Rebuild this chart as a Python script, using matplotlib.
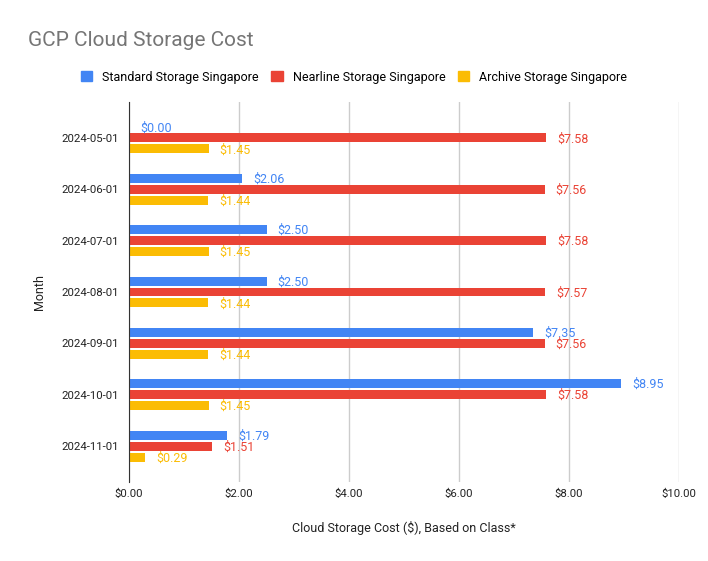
import matplotlib
matplotlib.use("Agg")
import matplotlib.pyplot as plt
import numpy as np

months = ["2024-05-01", "2024-06-01", "2024-07-01", "2024-08-01", "2024-09-01", "2024-10-01", "2024-11-01"]
standard = [0.00, 2.06, 2.50, 2.50, 7.35, 8.95, 1.79]
nearline = [7.58, 7.56, 7.58, 7.57, 7.56, 7.58, 1.51]
archive = [1.45, 1.44, 1.45, 1.44, 1.44, 1.45, 0.29]
series_names = ["Standard Storage Singapore", "Nearline Storage Singapore", "Archive Storage Singapore"]
colors = ["#4285F4", "#EA4335", "#FBBC04"]
xticks = [0, 2, 4, 6, 8, 10]

plt.rcParams['font.family'] = ['Roboto', 'DejaVu Sans']

fig = plt.figure(figsize=(7.08, 5.61), dpi=100)
ax = fig.add_axes([129/708, 1-482/561, 550/708, 380/561])

y = np.arange(len(months))
pitch = 0.214
h = 0.175
for i, (vals, c, name) in enumerate(zip([standard, nearline, archive], colors, series_names)):
    pos = y + (i - 1) * pitch
    ax.barh(pos, vals, height=h, color=c, label=name, zorder=3)
    for p, v in zip(pos, vals):
        ax.text(v + 0.2, p + 0.02, f"${v:.2f}", color=c, fontsize=9, va='center', ha='left', zorder=4)

ax.set_ylim(len(months) - 1 + 0.7, -0.7)
ax.set_xlim(0, 10)
ax.set_yticks(y)
ax.set_yticklabels(months, fontsize=8.2, color="#222222")
ax.set_xticks(xticks)
ax.set_xticklabels([f"${t:.2f}" for t in xticks], fontsize=8.2, color="#222222")
ax.tick_params(axis='y', length=0, pad=7)
ax.tick_params(axis='x', length=0, pad=5)
ax.xaxis.grid(True, color="#cccccc", linewidth=1, zorder=0)
for s in ["top", "right", "bottom"]:
    ax.spines[s].set_visible(False)
ax.spines["left"].set_color("#333333")
ax.spines["left"].set_zorder(5)

ax.set_xlabel("Cloud Storage Cost ($), Based on Class*", fontsize=9, color="#222222", labelpad=16)
ax.set_ylabel("Month", fontsize=9, color="#222222", labelpad=11)

fig.text(28/708, 1-40/561, "GCP Cloud Storage Cost", fontsize=15, color="#757575", va='center', ha='left')

handles = [plt.Rectangle((0, 0), 1, 1, color=c) for c in colors]
fig.legend(handles, series_names, loc='center', bbox_to_anchor=(0.5, 1-77/561), ncol=3, frameon=False,
           fontsize=9, handlelength=0.9, handleheight=0.9, columnspacing=1.0, handletextpad=0.8)

fig.savefig("out.png", dpi=100)
